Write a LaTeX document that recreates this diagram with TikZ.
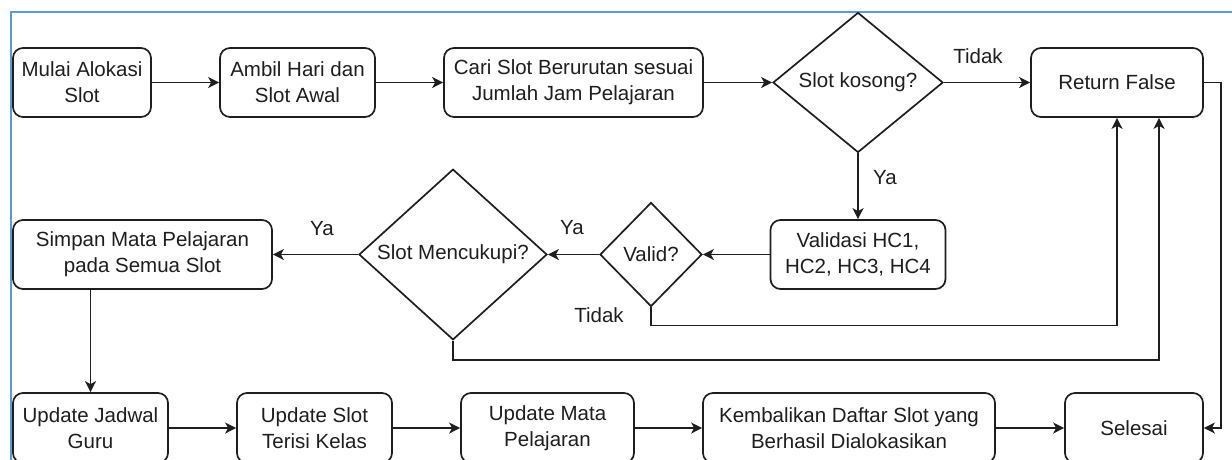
\documentclass[tikz,border=0pt]{standalone}
\usepackage{fontspec}
\setmainfont{Liberation Sans}
\usetikzlibrary{shapes.geometric,arrows.meta}
\definecolor{ink}{RGB}{30,30,30}
\definecolor{selblue}{RGB}{91,155,213}
\begin{document}
\begin{tikzpicture}[x=1pt,y=-1pt,
  every node/.style={font=\fontsize{20.5}{26}\selectfont, text=ink},
  box/.style={draw=ink, line width=1.7pt, rounded corners=10pt, inner sep=0pt, align=center},
  dec/.style={draw=ink, line width=1.7pt, shape=diamond, inner sep=0pt, align=center},
  conn/.style={draw=ink, line width=1.7pt, -{Stealth[length=11pt,width=11pt,inset=3pt]}},
  lbl/.style={inner sep=0pt}]
\useasboundingbox (0,0) rectangle (1232,459);
\draw[selblue, line width=1.6pt] (11,470) -- (11,12) -- (1240,12);
% row 1
\node[box, minimum width=138pt, minimum height=69pt] (m1) at (82,82.5) {Mulai Alokasi\\Slot};
\node[box, minimum width=155pt, minimum height=69pt] (m2) at (297.5,82.5) {Ambil Hari dan\\Slot Awal};
\node[box, minimum width=259pt, minimum height=69pt] (m3) at (573.5,82.5) {Cari Slot Berurutan sesuai\\Jumlah Jam Pelajaran};
\node[dec, minimum width=170pt, minimum height=140pt] (d1) at (858,82.5) {Slot kosong?};
\node[box, minimum width=172pt, minimum height=69pt] (rf) at (1117,82.5) {Return False};
% row 2
\node[box, minimum width=175pt, minimum height=69pt] (val) at (858,254.5) {Validasi HC1,\\HC2, HC3, HC4};
\node[dec, minimum width=102pt, minimum height=104pt] (d2) at (651,254.5) {Valid?};
\node[dec, minimum width=188pt, minimum height=137pt] (d3) at (453,254.5) {Slot Mencukupi?};
\node[box, minimum width=259pt, minimum height=69pt] (sim) at (142.5,254.5) {Simpan Mata Pelajaran\\pada Semua Slot};
% row 3
\node[box, minimum width=155pt, minimum height=70pt] (u1) at (90.5,428) {Update Jadwal\\Guru};
\node[box, minimum width=155pt, minimum height=70pt] (u2) at (314.5,428) {Update Slot\\Terisi Kelas};
\node[box, minimum width=173pt, minimum height=70pt] (u3) at (547.5,428) {Update Mata\\Pelajaran};
\node[box, minimum width=292pt, minimum height=70pt] (u4) at (849,428) {Kembalikan Daftar Slot yang\\Berhasil Dialokasikan};
\node[box, minimum width=138pt, minimum height=70pt] (sel) at (1134,428) {Selesai};
% labels
\node[lbl] (t1) at (978,56) {Tidak};
\node[lbl] (y1) at (885,178) {Ya};
\node[lbl] (y2) at (572,228) {Ya};
\node[lbl] (y3) at (322,229) {Ya};
\node[lbl] (t2) at (599,315) {Tidak};
% connectors
\draw[conn] (m1.east) -- (m2.west);
\draw[conn] (m2.east) -- (m3.west);
\draw[conn] (m3.east) -- (d1.west);
\draw[conn] (d1.east) -- (rf.west);
\draw[conn] (d1.south) -- (val.north);
\draw[conn] (val.west) -- (d2.east);
\draw[conn] (d2.west) -- (d3.east);
\draw[conn] (d3.west) -- (sim.east);
\draw[conn] (d2.south) -- ++(0,18) -| (rf.south);
\draw[conn] (d3.south) -- ++(0,19) -| ([xshift=42pt]rf.south);
\draw[conn] (rf.east) -- ++(17,0) |- (sel.east);
\draw[conn] (sim.south -| u1.north) -- (u1.north);
\draw[conn] (u1.east) -- (u2.west);
\draw[conn] (u2.east) -- (u3.west);
\draw[conn] (u3.east) -- (u4.west);
\draw[conn] (u4.east) -- (sel.west);
\end{tikzpicture}
\end{document}
